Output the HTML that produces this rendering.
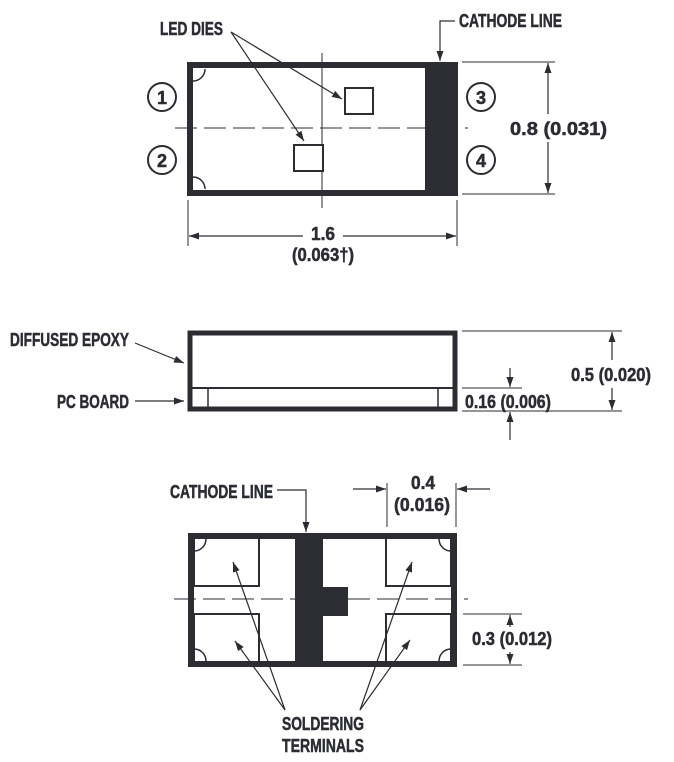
<!DOCTYPE html>
<html><head><meta charset="utf-8"><style>
html,body{margin:0;padding:0;background:#fff}
svg{display:block}
text{font-family:"Liberation Sans",sans-serif;font-weight:bold;font-size:18px;fill:#2b2d33;stroke:#2b2d33;stroke-width:0.5}
</style></head><body>
<svg width="674" height="762" viewBox="0 0 674 762" xmlns="http://www.w3.org/2000/svg">
<defs>
<marker id="a" viewBox="0 0 10 10" refX="10" refY="5" markerWidth="10" markerHeight="10" markerUnits="userSpaceOnUse" orient="auto"><path d="M0,1.5 L10,5 L0,8.5 Z" fill="#2b2d33"/></marker>
</defs>
<g stroke="#2b2d33" fill="none">
<line x1="322" y1="53" x2="322" y2="208" stroke-width="1"/>
<line x1="175" y1="128" x2="468" y2="128" stroke-width="1" stroke-dasharray="22,7"/>
<rect x="190" y="65" width="264" height="128" stroke-width="6" fill="none"/>
<rect x="425" y="62" width="33" height="134" fill="#2b2d33" stroke="none"/>
<path d="M193,81 A12,12 0 0 0 205,69" stroke-width="1.5"/>
<path d="M193,177 A12,12 0 0 1 205,189" stroke-width="1.5"/>
<rect x="345" y="88" width="28" height="26" stroke-width="2" fill="#fff"/>
<rect x="294" y="145" width="29" height="26" stroke-width="2" fill="#fff"/>
<circle cx="162" cy="97" r="14" stroke-width="2"/>
<circle cx="162" cy="160" r="14" stroke-width="2"/>
<circle cx="481" cy="97" r="14" stroke-width="2"/>
<circle cx="481" cy="160" r="14" stroke-width="2"/>
<line x1="231" y1="32" x2="342" y2="99" stroke-width="1.2" marker-end="url(#a)"/>
<line x1="231" y1="32" x2="304" y2="141" stroke-width="1.2" marker-end="url(#a)"/>
<polyline points="455,21 440,21 440,61" stroke-width="1.2" marker-end="url(#a)"/>
<line x1="462" y1="62" x2="555" y2="62" stroke-width="1"/>
<line x1="462" y1="194" x2="555" y2="194" stroke-width="1"/>
<line x1="548" y1="114" x2="548" y2="63" stroke-width="1.2" marker-end="url(#a)"/>
<line x1="548" y1="142" x2="548" y2="193" stroke-width="1.2" marker-end="url(#a)"/>
<line x1="188" y1="200" x2="188" y2="246" stroke-width="1"/>
<line x1="457" y1="200" x2="457" y2="246" stroke-width="1"/>
<line x1="303" y1="236" x2="189" y2="236" stroke-width="1.2" marker-end="url(#a)"/>
<line x1="343" y1="236" x2="456" y2="236" stroke-width="1.2" marker-end="url(#a)"/>
<rect x="190" y="333" width="265" height="76" stroke-width="5"/>
<line x1="192" y1="388" x2="453" y2="388" stroke-width="2"/>
<line x1="208" y1="388" x2="208" y2="409" stroke-width="1.5"/>
<line x1="438" y1="388" x2="438" y2="409" stroke-width="1.5"/>
<line x1="135" y1="343" x2="184" y2="363" stroke-width="1.2" marker-end="url(#a)"/>
<line x1="135" y1="401" x2="184" y2="401" stroke-width="1.2" marker-end="url(#a)"/>
<line x1="462" y1="331" x2="622" y2="331" stroke-width="1"/>
<line x1="462" y1="411" x2="622" y2="411" stroke-width="1"/>
<line x1="612" y1="360" x2="612" y2="332" stroke-width="1.2" marker-end="url(#a)"/>
<line x1="612" y1="388" x2="612" y2="410" stroke-width="1.2" marker-end="url(#a)"/>
<line x1="462" y1="388" x2="522" y2="388" stroke-width="1"/>
<line x1="510" y1="368" x2="510" y2="387" stroke-width="1.2" marker-end="url(#a)"/>
<line x1="510" y1="440" x2="510" y2="412" stroke-width="1.2" marker-end="url(#a)"/>
<line x1="174" y1="599" x2="468" y2="599" stroke-width="1" stroke-dasharray="22,7"/>
<rect x="191" y="536" width="263" height="128" stroke-width="6" fill="none"/>
<path d="M194,539 V586 H259 V539" stroke-width="2"/>
<path d="M194,661 V614 H259 V661" stroke-width="2"/>
<path d="M451,539 V586 H386 V539" stroke-width="2"/>
<path d="M451,661 V614 H386 V661" stroke-width="2"/>
<path d="M194,551 A12,12 0 0 0 206,539" stroke-width="1.5"/>
<path d="M194,649 A12,12 0 0 1 206,661" stroke-width="1.5"/>
<path d="M451,551 A12,12 0 0 1 439,539" stroke-width="1.5"/>
<path d="M451,649 A12,12 0 0 0 439,661" stroke-width="1.5"/>
<rect x="295" y="533" width="28" height="134" fill="#2b2d33" stroke="none"/>
<rect x="322" y="587" width="26" height="29" fill="#2b2d33" stroke="none"/>
<polyline points="277,490 306,490 306,532" stroke-width="1.2" marker-end="url(#a)"/>
<line x1="387" y1="483" x2="387" y2="527" stroke-width="1"/>
<line x1="456" y1="483" x2="456" y2="527" stroke-width="1"/>
<line x1="353" y1="489" x2="386" y2="489" stroke-width="1.2" marker-end="url(#a)"/>
<line x1="490" y1="489" x2="457" y2="489" stroke-width="1.2" marker-end="url(#a)"/>
<line x1="463" y1="614" x2="522" y2="614" stroke-width="1"/>
<line x1="463" y1="665" x2="522" y2="665" stroke-width="1"/>
<line x1="510" y1="627" x2="510" y2="615" stroke-width="1.2" marker-end="url(#a)"/>
<line x1="510" y1="652" x2="510" y2="664" stroke-width="1.2" marker-end="url(#a)"/>
<line x1="285" y1="710" x2="233" y2="562" stroke-width="1.2" marker-end="url(#a)"/>
<line x1="285" y1="710" x2="235" y2="641" stroke-width="1.2" marker-end="url(#a)"/>
<line x1="360" y1="710" x2="412" y2="562" stroke-width="1.2" marker-end="url(#a)"/>
<line x1="360" y1="710" x2="410" y2="640" stroke-width="1.2" marker-end="url(#a)"/>
</g>
<g>
<text x="160" y="35" textLength="63" lengthAdjust="spacingAndGlyphs">LED DIES</text>
<text x="459" y="27" textLength="103" lengthAdjust="spacingAndGlyphs">CATHODE LINE</text>
<text x="162" y="104" text-anchor="middle">1</text>
<text x="162" y="167" text-anchor="middle">2</text>
<text x="481" y="104" text-anchor="middle">3</text>
<text x="481" y="167" text-anchor="middle">4</text>
<text x="510" y="135" textLength="97" lengthAdjust="spacingAndGlyphs">0.8 (0.031)</text>
<text x="311" y="240" textLength="24" lengthAdjust="spacingAndGlyphs">1.6</text>
<text x="292" y="261" textLength="62" lengthAdjust="spacingAndGlyphs">(0.063†)</text>
<text x="10" y="346" textLength="119" lengthAdjust="spacingAndGlyphs">DIFFUSED EPOXY</text>
<text x="57" y="408" textLength="72" lengthAdjust="spacingAndGlyphs">PC BOARD</text>
<text x="571" y="381" textLength="80" lengthAdjust="spacingAndGlyphs">0.5 (0.020)</text>
<text x="465" y="408" textLength="86" lengthAdjust="spacingAndGlyphs">0.16 (0.006)</text>
<text x="170" y="498" textLength="103" lengthAdjust="spacingAndGlyphs">CATHODE LINE</text>
<text x="411" y="489" textLength="24" lengthAdjust="spacingAndGlyphs">0.4</text>
<text x="394" y="511" textLength="56" lengthAdjust="spacingAndGlyphs">(0.016)</text>
<text x="472" y="645" textLength="80" lengthAdjust="spacingAndGlyphs">0.3 (0.012)</text>
<text x="282" y="730" textLength="82" lengthAdjust="spacingAndGlyphs">SOLDERING</text>
<text x="282" y="752" textLength="82" lengthAdjust="spacingAndGlyphs">TERMINALS</text>
</g>
</svg>
</body></html>
